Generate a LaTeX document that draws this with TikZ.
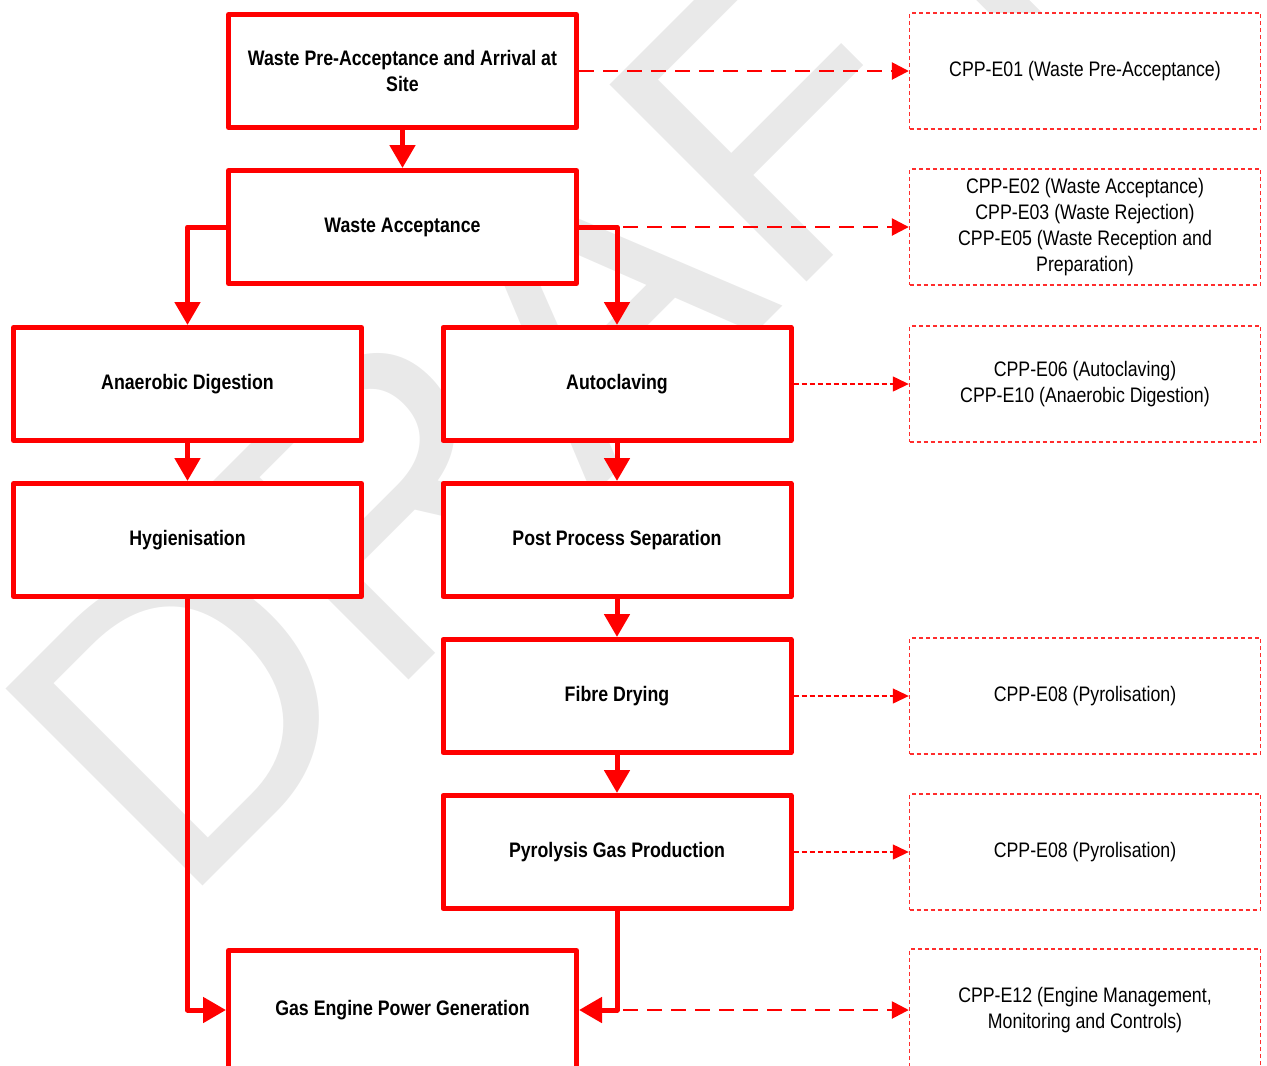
\documentclass[tikz,border=0pt]{standalone}
\usepackage{fontspec}
\setmainfont{Liberation Sans}[FakeStretch=0.845]
\newfontfamily\wmfont{Liberation Sans}
\usetikzlibrary{arrows.meta}

\definecolor{flowred}{RGB}{255,0,0}
\definecolor{refred}{RGB}{255,45,45}
\definecolor{wmgray}{RGB}{233,233,233}

\tikzset{
  stepbox/.style={draw=flowred, fill=white, line width=5pt, line join=round,
    minimum width=348pt, minimum height=113pt, inner sep=0pt, align=center,
    font=\fontsize{21}{26}\selectfont\bfseries},
  refbox/.style={draw=refred, fill=white, line width=1.4pt, dash pattern=on 4pt off 3pt,
    minimum width=351pt, minimum height=116pt, inner sep=0pt, align=center,
    font=\fontsize{21}{26}\selectfont},
  flow/.style={draw=flowred, line width=5pt, line join=round,
    -{Triangle[width=25pt,length=23pt]}},
  reflink/.style={draw=flowred, line width=2.6pt, dash pattern=on 15pt off 9pt,
    -{Triangle[width=17pt,length=17pt]}},
  reflinkthin/.style={draw=flowred, line width=1.3pt, dash pattern=on 5pt off 3pt,
    -{Triangle[width=15pt,length=16pt]}},
}

\begin{document}
\begin{tikzpicture}[x=1pt, y=-1pt]

  % fix the canvas to the reference size
  \useasboundingbox (0,0) rectangle (1267,1066);
  \clip (0,0) rectangle (1267,1066);

  %% ════ watermark ════
  \node[wmgray, rotate=45, anchor=base west, inner sep=0pt,
        font=\wmfont\fontsize{405}{486}\selectfont] (draftmark) at (179,910) {DRAFT};

  %% ════ process steps ════
  \node[stepbox] (preaccept)  at (402.5,71)  {Waste Pre-Acceptance and Arrival at\\Site};
  \node[stepbox] (accept)     at (402.5,227) {Waste Acceptance};
  \node[stepbox] (anaerobic)  at (187.5,384) {Anaerobic Digestion};
  \node[stepbox] (autoclave)  at (617,384)   {Autoclaving};
  \node[stepbox] (hygiene)    at (187.5,540) {Hygienisation};
  \node[stepbox] (separation) at (617,540)   {Post Process Separation};
  \node[stepbox] (drying)     at (617,696)   {Fibre Drying};
  \node[stepbox] (pyrolysis)  at (617,852)   {Pyrolysis Gas Production};
  % bottom edge runs off the page
  \node[stepbox, minimum height=119pt] (engine) at (402.5,1010) {Gas Engine Power Generation};

  %% ════ procedure references ════
  \node[refbox] (cppE01)  at (1085,71)  {CPP-E01 (Waste Pre-Acceptance)};
  \node[refbox] (cppE02)  at (1085,227) {CPP-E02 (Waste Acceptance)\\CPP-E03 (Waste Rejection)\\CPP-E05 (Waste Reception and\\Preparation)};
  \node[refbox] (cppE06)  at (1085,384) {CPP-E06 (Autoclaving)\\CPP-E10 (Anaerobic Digestion)};
  \node[refbox] (cppE08a) at (1085,696) {CPP-E08 (Pyrolisation)};
  \node[refbox] (cppE08b) at (1085,852) {CPP-E08 (Pyrolisation)};
  \node[refbox, minimum height=122pt] (cppE12) at (1085,1010) {CPP-E12 (Engine Management,\\Monitoring and Controls)};

  %% ════ flow ════
  \draw[flow] (preaccept) -- (accept);
  \draw[flow] (accept.west) -| (anaerobic.north);
  \draw[flow] (accept.east) -| (autoclave.north);
  \draw[flow] (anaerobic) -- (hygiene);
  \draw[flow] (autoclave) -- (separation);
  \draw[flow] (separation) -- (drying);
  \draw[flow] (drying) -- (pyrolysis);
  \draw[flow] (hygiene.south) |- (engine.west);
  \draw[flow] (pyrolysis.south) |- (engine.east);

  %% ════ links to the procedures ════
  \coordinate (acceptelbow) at (autoclave.north |- accept.east);
  \coordinate (engineelbow) at (pyrolysis.south |- engine.east);
  \draw[reflink] (preaccept.east) -- (cppE01.west);
  \draw[reflink] ([xshift=6pt]acceptelbow) -- (cppE02.west);
  \draw[reflinkthin] (autoclave.east) -- (cppE06.west);
  \draw[reflinkthin] (drying.east) -- (cppE08a.west);
  \draw[reflinkthin] (pyrolysis.east) -- (cppE08b.west);
  \draw[reflink] ([xshift=6pt]engineelbow) -- (cppE12.west);

\end{tikzpicture}
\end{document}
